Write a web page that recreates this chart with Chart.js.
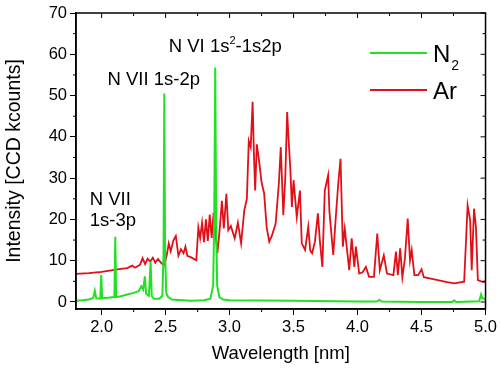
<!DOCTYPE html>
<html>
<head>
<meta charset="utf-8">
<script src="https://cdn.jsdelivr.net/npm/chart.js@4.4.1/dist/chart.umd.min.js"></script>
<style>
  html, body { margin: 0; padding: 0; background: #fff; }
  #wrap { width: 500px; height: 370px; position: relative; }
</style>
</head>
<body>
<div id="wrap"><canvas id="spectrum"></canvas></div>
<script>
// Ar spectrum (red)
const arWl = [1.80, 1.90, 2.00, 2.10, 2.15, 2.20, 2.24, 2.26, 2.30, 2.32, 2.34, 2.36, 2.38, 2.40, 2.42, 2.44, 2.47, 2.49,
  2.51, 2.525, 2.54, 2.56, 2.58, 2.60, 2.62, 2.64, 2.655, 2.67, 2.70, 2.74, 2.756, 2.77, 2.785, 2.80, 2.815, 2.83,
  2.845, 2.86, 2.875, 2.89, 2.905, 2.925, 2.94, 2.955, 2.975, 2.99, 3.01, 3.04, 3.065, 3.09, 3.115, 3.135, 3.15,
  3.165, 3.18, 3.19, 3.20, 3.213, 3.23, 3.25, 3.27, 3.29, 3.31, 3.33, 3.36, 3.385, 3.40, 3.42, 3.435, 3.45, 3.46,
  3.475, 3.487, 3.50, 3.525, 3.55, 3.564, 3.59, 3.615, 3.63, 3.645, 3.667, 3.69, 3.705, 3.725, 3.744, 3.77, 3.78,
  3.81, 3.83, 3.85, 3.867, 3.885, 3.90, 3.92, 3.935, 3.954, 3.975, 3.987, 4.013, 4.04, 4.065, 4.09, 4.128, 4.154,
  4.174, 4.205, 4.23, 4.28, 4.30, 4.315, 4.333, 4.35, 4.37, 4.392, 4.41, 4.423, 4.444, 4.474, 4.50, 4.518, 4.60,
  4.70, 4.757, 4.833, 4.86, 4.88, 4.892, 4.91, 4.925, 4.94, 4.975, 5.00];
const arInt = [6.8, 7.0, 7.3, 7.8, 8.0, 8.2, 8.8, 8.3, 9.0, 10.6, 9.2, 10.5, 9.8, 10.7, 9.5, 10.4, 9.3, 8.9,
  11.5, 14.2, 12.3, 14.8, 16.0, 11.2, 12.8, 11.8, 13.4, 11.2, 10.8, 10.1, 18.0, 15.5, 19.2, 14.5, 20.0, 14.8,
  21.2, 15.5, 21.6, 16.6, 11.8, 18.4, 24.5, 17.8, 26.2, 17.4, 18.4, 15.4, 19.2, 14.2, 22.2, 25.0, 39.0,
  37.5, 48.5, 36.0, 27.0, 38.2, 34.3, 29.0, 26.3, 18.0, 14.6, 16.0, 19.0, 28.7, 37.5, 21.0, 30.0, 46.0, 40.0,
  32.0, 23.0, 29.5, 20.6, 27.0, 14.2, 12.6, 18.2, 12.5, 11.8, 14.6, 21.5, 15.0, 8.5, 27.0, 30.7, 22.0,
  11.4, 20.6, 29.0, 34.7, 13.4, 17.8, 12.0, 7.7, 15.4, 8.5, 13.4, 6.9, 7.2, 8.5, 6.1, 6.1, 16.6,
  7.7, 11.3, 6.9, 6.5, 12.2, 6.5, 13.0, 6.0, 10.5, 20.2, 10.1, 12.6, 6.5, 6.5, 7.9, 6.0, 5.5,
  4.8, 4.5, 4.9, 23.4, 19.8, 7.7, 22.6, 18.2, 5.3, 4.9, 4.9];

// N2 spectrum (green)
const n2Wl = [1.80, 1.85, 1.90, 1.935, 1.947, 1.958, 1.99, 1.997, 2.004, 2.05, 2.100, 2.107, 2.114, 2.15, 2.20,
  2.25, 2.29, 2.31, 2.325, 2.338, 2.348, 2.37, 2.383, 2.392, 2.41, 2.45, 2.475, 2.484, 2.49, 2.496, 2.505, 2.52,
  2.55, 2.60, 2.70, 2.80, 2.85, 2.872, 2.88, 2.888, 2.895, 2.903, 2.92, 2.95, 3.00, 3.50, 4.00, 4.15, 4.17, 4.19,
  4.50, 4.74, 4.755, 4.77, 4.95, 4.965, 4.975, 4.99, 5.00];
const n2Int = [0.3, 0.4, 0.6, 1.0, 2.7, 0.9, 0.8, 6.5, 0.9, 1.0, 1.2, 15.8, 1.2, 1.4, 1.8,
  2.2, 2.6, 3.8, 3.0, 6.2, 2.0, 1.5, 9.8, 1.4, 0.8, 0.8, 1.5, 12, 50.5, 12, 2.2, 1.2,
  0.6, 0.5, 0.3, 0.4, 0.8, 4, 20, 56.8, 20, 4, 1.2, 0.6, 0.4, 0.3, 0.1, 0.1, 0.5, 0.1,
  0.0, 0.0, 0.4, 0.0, 0.2, 1.8, 0.8, 0.9, 0.5];

const xTicks = [2.0, 2.5, 3.0, 3.5, 4.0, 4.5, 5.0];
const yTicks = [0, 10, 20, 30, 40, 50, 60, 70];
const xMinor = [2.25, 2.75, 3.25, 3.75, 4.25, 4.75];
const yMinor = [5, 15, 25, 35, 45, 55, 65];

const FONT = "'Liberation Sans', Arial, sans-serif";
const green = '#22e022';
const red = '#e01018';

Chart.defaults.font.family = FONT;
Chart.defaults.color = '#000';

const toPts = (xs, ys) => xs.map((x, i) => ({ x: x, y: ys[i] }));

// frame, inner ticks, minor ticks, peak labels and legend
const decorations = {
    id: 'decorations',
    afterDraw(chart) {
        const { ctx, chartArea: a, scales: { x, y } } = chart;
        ctx.save();
        ctx.strokeStyle = '#000';
        ctx.lineWidth = 1.5;
        ctx.strokeRect(a.left, a.top, a.right - a.left, a.bottom - a.top);

        ctx.lineWidth = 1;
        ctx.beginPath();
        xTicks.forEach(v => {
            const px = x.getPixelForValue(v);
            ctx.moveTo(px, a.top); ctx.lineTo(px, a.top + 5);
        });
        xMinor.forEach(v => {
            const px = x.getPixelForValue(v);
            ctx.moveTo(px, a.top); ctx.lineTo(px, a.top + 3);
            ctx.moveTo(px, a.bottom); ctx.lineTo(px, a.bottom + 3);
        });
        yTicks.forEach(v => {
            const py = y.getPixelForValue(v);
            ctx.moveTo(a.right, py); ctx.lineTo(a.right - 5, py);
        });
        yMinor.forEach(v => {
            const py = y.getPixelForValue(v);
            ctx.moveTo(a.right, py); ctx.lineTo(a.right - 3, py);
            ctx.moveTo(a.left, py); ctx.lineTo(a.left - 3, py);
        });
        ctx.stroke();

        // peak labels
        ctx.fillStyle = '#000';
        ctx.textBaseline = 'alphabetic';
        ctx.textAlign = 'left';
        ctx.font = '18.5px ' + FONT;
        ctx.fillText('N VII', x.getPixelForValue(1.907), y.getPixelForValue(23.5));
        ctx.fillText('1s-3p', x.getPixelForValue(1.907), y.getPixelForValue(18.5));
        ctx.fillText('N VII 1s-2p', x.getPixelForValue(2.046), y.getPixelForValue(52.5));
        let lx = x.getPixelForValue(2.525);
        const ly = y.getPixelForValue(60.5);
        ctx.fillText('N VI 1s', lx, ly);
        lx += ctx.measureText('N VI 1s').width;
        ctx.font = '11px ' + FONT;
        ctx.fillText('2', lx, ly - 8);
        lx += ctx.measureText('2').width;
        ctx.font = '18.5px ' + FONT;
        ctx.fillText('-1s2p', lx, ly);

        // legend
        const ds = chart.data.datasets;
        const rows = [{ d: ds[1], yy: 53, main: 'N', sub: '2' }, { d: ds[0], yy: 90, main: 'Ar', sub: '' }];
        rows.forEach(r => {
            ctx.strokeStyle = r.d.borderColor;
            ctx.lineWidth = 2;
            ctx.beginPath();
            ctx.moveTo(370, r.yy); ctx.lineTo(427, r.yy);
            ctx.stroke();
            ctx.font = '24px ' + FONT;
            ctx.fillText(r.main, 433, r.yy + 9);
            if (r.sub) {
                const w = ctx.measureText(r.main).width;
                ctx.font = '14px ' + FONT;
                ctx.fillText(r.sub, 433 + w + 1, r.yy + 17);
            }
        });
        ctx.restore();
    }
};

new Chart(document.getElementById('spectrum'), {
    type: 'line',
    data: {
        datasets: [
            {
                label: 'Ar',
                data: toPts(arWl, arInt),
                borderColor: red,
                borderWidth: 1.8,
                pointRadius: 0,
                tension: 0,
                order: 2
            },
            {
                label: 'N2',
                data: toPts(n2Wl, n2Int),
                borderColor: green,
                borderWidth: 2,
                pointRadius: 0,
                tension: 0,
                order: 1
            }
        ]
    },
    options: {
        responsive: true,
        maintainAspectRatio: false,
        animation: false,
        layout: { padding: { top: 13, right: 11, left: 0, bottom: 0 } },
        plugins: {
            legend: { display: false },
            tooltip: { enabled: false }
        },
        scales: {
            x: {
                type: 'linear',
                min: 1.8,
                max: 5.0,
                afterBuildTicks: s => { s.ticks = xTicks.map(v => ({ value: v })); },
                afterFit: s => { s.height = 61; },
                ticks: {
                    callback: v => v.toFixed(1),
                    font: { size: 16.5 },
                    color: '#000',
                    padding: 3,
                    maxRotation: 0,
                    autoSkip: false
                },
                grid: { drawOnChartArea: false, tickLength: 6, color: '#000', lineWidth: 1 },
                border: { color: '#000', width: 1.5 },
                title: {
                    display: true,
                    text: 'Wavelength [nm]',
                    font: { size: 18.5 },
                    color: '#000',
                    padding: { top: 2, bottom: 5 }
                }
            },
            y: {
                min: -1.7,
                max: 70,
                afterBuildTicks: s => { s.ticks = yTicks.map(v => ({ value: v })); },
                afterFit: s => { s.width = 76; },
                ticks: {
                    font: { size: 16.5 },
                    color: '#000',
                    padding: 3
                },
                grid: { drawOnChartArea: false, tickLength: 6, color: '#000', lineWidth: 1 },
                border: { color: '#000', width: 1.5 },
                title: {
                    display: true,
                    text: 'Intensity [CCD kcounts]',
                    font: { size: 19.5 },
                    color: '#000',
                    padding: { top: 3, bottom: 2 }
                }
            }
        }
    },
    plugins: [decorations]
});
</script>
</body>
</html>
